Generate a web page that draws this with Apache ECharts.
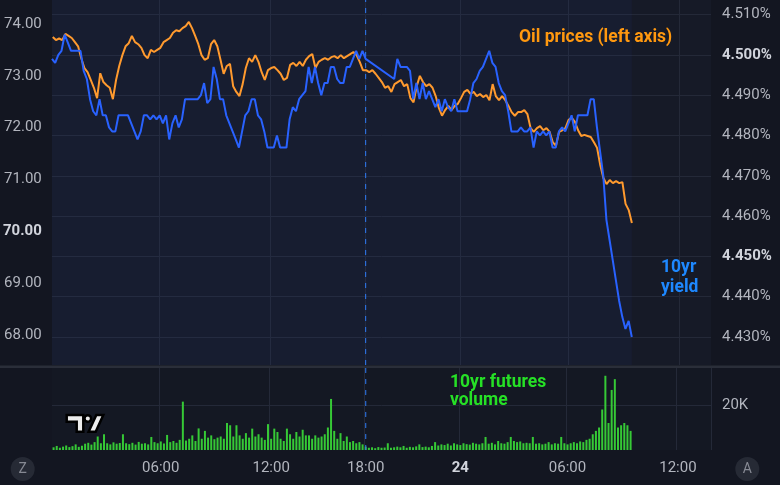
<!DOCTYPE html>
<html><head><meta charset="utf-8">
<script src="https://cdn.jsdelivr.net/npm/echarts@6/dist/echarts.min.js"></script>
<style>html,body{margin:0;padding:0;background:#131621;}#c{width:780px;height:485px;}</style>
</head><body><div id="c"></div>
<script>
// ---- data (one slot ≈ one plotted bar position, 23rd ~00:30 → 24th ~12:40) ----
const slotCount = 209;
const tickIndex = [34, 69, 99, 129, 163, 198];
const tickText  = ['06:00', '12:00', '18:00', '24', '06:00', '12:00'];
const sessionBreakIndex = 99;
const lastDataIndex = 183;

const oilPrices = [
73.75,73.69,73.72,73.69,73.81,73.77,73.73,73.65,73.57,73.34,
73.15,73.07,72.92,72.77,72.57,73.05,72.88,72.82,72.77,72.55,
72.92,73.19,73.40,73.57,73.63,73.77,73.65,73.61,73.54,73.40,
73.34,73.50,73.46,73.50,73.54,73.65,73.69,73.73,73.83,73.88,
73.86,73.92,73.96,74.04,73.92,73.77,73.61,73.40,73.31,73.34,
73.61,73.69,73.57,73.31,73.04,73.19,73.23,72.80,72.69,72.61,
72.84,73.15,73.34,73.27,73.40,73.27,73.07,72.92,73.11,73.15,
73.17,73.11,73.04,72.92,72.96,73.21,73.25,73.19,73.27,73.19,
73.31,73.38,73.42,73.15,73.27,73.31,73.34,73.31,73.36,73.38,
73.34,73.40,73.34,73.38,73.42,73.46,73.40,73.27,73.11,73.11,
73.07,73.11,73.04,72.96,72.88,72.77,72.80,72.69,72.84,72.88,
72.92,72.80,72.84,72.57,72.49,72.80,73.00,72.88,72.80,72.84,
72.77,72.61,72.38,72.23,72.34,72.42,72.34,72.42,72.46,72.57,
72.69,72.73,72.65,72.69,72.61,72.65,72.59,72.63,72.53,72.84,
72.61,72.53,72.61,72.53,72.42,72.30,72.23,72.30,72.30,72.34,
72.26,71.99,71.92,71.99,72.03,71.95,71.99,71.92,71.72,71.65,
71.92,71.95,71.99,72.15,72.19,72.11,71.95,71.84,71.86,71.84,
71.82,71.72,71.61,71.28,71.03,70.91,70.99,70.93,70.97,70.93,
70.95,70.53,70.41,70.16
];

const yield10y = [
4.499,4.498,4.500,4.501,4.505,4.503,4.501,4.501,4.501,4.501,
4.496,4.494,4.489,4.486,4.485,4.489,4.485,4.485,4.482,4.481,
4.481,4.485,4.485,4.485,4.485,4.483,4.481,4.479,4.481,4.485,
4.485,4.484,4.485,4.484,4.485,4.483,4.485,4.479,4.483,4.485,
4.482,4.484,4.489,4.489,4.489,4.489,4.489,4.490,4.493,4.488,
4.489,4.497,4.494,4.489,4.489,4.485,4.483,4.481,4.479,4.477,
4.481,4.485,4.486,4.489,4.489,4.485,4.484,4.481,4.477,4.477,
4.477,4.480,4.477,4.477,4.477,4.484,4.487,4.486,4.489,4.490,
4.491,4.497,4.493,4.497,4.493,4.490,4.493,4.493,4.497,4.497,
4.494,4.493,4.493,4.497,4.497,4.499,4.501,4.499,4.501,4.499,
null,null,null,null,null,null,null,null,4.494,4.499,
4.497,4.497,4.497,4.496,4.489,4.493,4.489,4.493,4.489,4.491,
4.489,4.487,4.489,4.486,4.489,4.487,4.486,4.489,4.486,4.486,
4.486,4.486,4.489,4.493,4.494,4.496,4.497,4.499,4.501,4.498,
4.497,4.493,4.491,4.490,4.486,4.481,4.481,4.481,4.482,4.481,
4.481,4.482,4.477,4.481,4.480,4.481,4.480,4.481,4.477,4.477,
4.481,4.482,4.481,4.483,4.485,4.481,4.485,4.485,4.485,4.485,
4.489,4.489,4.482,4.476,4.470,4.459,4.454,4.449,4.444,4.439,
4.435,4.432,4.434,4.430
];

// 10yr futures volume, thousands of contracts
const futuresVolumeK = [
1.2,1.8,1.0,1.5,2.0,1.3,1.7,2.5,1.4,1.9,
2.8,3.2,2.4,3.5,6.0,3.0,7.0,3.0,2.5,3.4,
2.8,3.1,7.0,3.0,2.6,3.2,2.4,3.6,2.8,3.0,
2.5,5.8,3.5,3.0,3.8,2.9,6.7,3.5,4.0,3.2,
4.5,21.5,4.2,5.0,6.5,4.0,9.6,5.0,8.5,5.5,
6.5,4.8,5.5,6.0,5.0,12.0,11.0,6.0,11.0,6.5,
5.0,7.5,5.5,9.5,6.0,7.0,5.5,4.5,11.5,5.0,
9.5,8.0,5.0,4.0,9.5,7.0,5.0,8.0,6.0,9.0,
6.5,6.5,5.0,6.5,5.5,6.0,7.0,10.0,22.7,8.5,
5.0,7.5,4.0,6.0,3.5,4.0,3.0,3.5,2.5,1.5,
1.0,1.2,0.8,1.3,1.0,1.1,3.0,1.0,1.2,1.5,
1.2,1.8,1.0,1.4,1.2,1.6,2.5,1.3,1.5,1.2,
1.8,3.5,2.0,2.5,2.2,2.8,2.0,3.0,2.5,2.2,
3.0,2.6,2.4,3.2,2.8,2.5,3.0,5.8,2.8,3.2,
2.5,4.0,3.0,2.8,3.5,5.8,4.0,3.5,3.8,3.0,
3.2,3.0,5.8,2.8,3.0,2.5,2.8,3.5,2.5,3.0,
2.8,5.8,3.0,2.5,3.0,3.5,3.0,3.8,3.5,4.5,
5.0,7.0,8.5,10.0,18.0,33.0,12.0,26.7,31.5,10.0,
11.0,12.0,11.0,8.5
];

const oilTicks = [68, 74, 1];          // min, max, step (left axis)
const yieldTicks = [4.43, 4.51, 0.01]; // min, max, step (right axis)
const volumeTicks = [0, 36.9, 20];     // min, max, step (volume axis, K)

// ---- chart ----
const slots = Array.from({length: slotCount}, (_, i) => 'b' + i);
const isTick = (i) => tickIndex.indexOf(i) >= 0;

const FONT = 'Roboto, "Noto Sans", sans-serif';
const LABEL = '#b2b5be';
const BOLD = '#d1d4dc';
const GRID = '#242938';
const BREAK = '#2f7cf6';
const L = 52, W = 659;

const chart = echarts.init(document.getElementById('c'), null, {renderer: 'canvas'});

const hiddenX = (g) => ({type: 'category', gridIndex: g, data: slots, boundaryGap: false, show: false});
const breakSeries = (xi, yi, top) => ({
  type: 'line', xAxisIndex: xi, yAxisIndex: yi, silent: true, showSymbol: false, z: 3,
  data: [[slots[sessionBreakIndex], 0], [slots[sessionBreakIndex], top]],
  lineStyle: {color: BREAK, type: [5, 6], width: 1}, itemStyle: {color: BREAK}, clip: false
});

chart.setOption({
  animation: false,
  backgroundColor: '#131621',
  grid: [
    {left: L, width: W, top: 24, height: 311},                 // oil
    {left: L, width: W, top: 14.5, height: 322.5},             // yield
    {left: L, width: W, top: 0, height: 365, show: true, backgroundColor: '#161a27', borderWidth: 0}, // main pane
    {left: L, width: W, top: 367, height: 83, show: true, backgroundColor: '#141823', borderWidth: 0}  // volume pane
  ],
  xAxis: [
    hiddenX(0), hiddenX(1),
    {type: 'category', gridIndex: 2, data: slots, boundaryGap: false,
     axisLine: {show: false}, axisTick: {show: false}, axisLabel: {show: false},
     splitLine: {show: true, interval: (i) => isTick(i), lineStyle: {color: GRID, width: 1}}},
    {type: 'category', gridIndex: 3, data: slots, boundaryGap: true,
     axisLine: {show: false}, axisTick: {show: false},
     axisLabel: {show: true, interval: (i) => isTick(i), margin: 11,
       color: LABEL, fontSize: 15, fontFamily: FONT,
       formatter: (v, i) => { const t = tickText[tickIndex.indexOf(i)] || ''; return t === '24' ? '{b|' + t + '}' : t; },
       rich: {b: {fontWeight: 'bold', color: BOLD, fontSize: 15, fontFamily: FONT}}},
     splitLine: {show: true, interval: (i) => isTick(i), lineStyle: {color: GRID, width: 1}}}
  ],
  yAxis: [
    {type: 'value', gridIndex: 0, position: 'left', min: oilTicks[0], max: oilTicks[1], interval: oilTicks[2],
     axisLine: {show: false}, axisTick: {show: false}, splitLine: {show: false},
     axisLabel: {margin: 11, color: LABEL, fontSize: 15, fontFamily: FONT, showMinLabel: true, showMaxLabel: true,
       formatter: (v) => { const s = v.toFixed(2); return Math.abs(v - 70) < 1e-6 ? '{b|' + s + '}' : s; },
       rich: {b: {fontWeight: 'bold', color: BOLD, fontSize: 15, fontFamily: FONT}}}},
    {type: 'value', gridIndex: 1, position: 'right', min: yieldTicks[0], max: yieldTicks[1], interval: yieldTicks[2],
     axisLine: {show: false}, axisTick: {show: false},
     splitLine: {show: true, lineStyle: {color: GRID, width: 1}},
     axisLabel: {margin: 11, color: LABEL, fontSize: 15, fontFamily: FONT, showMinLabel: true, showMaxLabel: true,
       formatter: (v) => { const s = v.toFixed(3) + '%'; return (Math.abs(v - 4.5) < 1e-6 || Math.abs(v - 4.45) < 1e-6) ? '{b|' + s + '}' : s; },
       rich: {b: {fontWeight: 'bold', color: BOLD, fontSize: 15, fontFamily: FONT}}}},
    {type: 'value', gridIndex: 2, min: 0, max: 1, show: false},
    {type: 'value', gridIndex: 3, position: 'right', min: volumeTicks[0], max: volumeTicks[1], interval: volumeTicks[2],
     axisLine: {show: false}, axisTick: {show: false},
     splitLine: {show: true, showMinLine: false, showMaxLine: false, lineStyle: {color: GRID, width: 1}},
     axisLabel: {margin: 11, color: LABEL, fontSize: 15, fontFamily: FONT, showMinLabel: false, showMaxLabel: false,
       formatter: (v) => (v === 20 ? '20K' : '')}}
  ],
  series: [
    {type: 'line', xAxisIndex: 2, yAxisIndex: 2, data: [], silent: true,
     markArea: {silent: true, itemStyle: {color: 'rgba(45,85,210,0.06)'},
       data: [[{xAxis: slots[0]}, {xAxis: slots[lastDataIndex]}]]}},
    breakSeries(2, 2, 1),
    {name: 'Oil prices', type: 'line', xAxisIndex: 0, yAxisIndex: 0, data: oilPrices, z: 4,
     showSymbol: false, lineStyle: {color: '#ff9a2e', width: 2}, itemStyle: {color: '#ff9a2e'}, clip: false},
    {name: '10yr yield', type: 'line', xAxisIndex: 1, yAxisIndex: 1, data: yield10y, connectNulls: true, z: 5,
     showSymbol: false, lineStyle: {color: '#2962ff', width: 2}, itemStyle: {color: '#2962ff'}, clip: false},
    {name: '10yr futures volume', type: 'bar', xAxisIndex: 3, yAxisIndex: 3, data: futuresVolumeK,
     barWidth: 2, itemStyle: {color: '#36c936'}},
    breakSeries(3, 3, volumeTicks[1])
  ],
  graphic: [
    {type: 'rect', z: 20, shape: {x: 0, y: 365.5, width: 780, height: 2.5}, style: {fill: '#2a2e39'}, silent: true},
    {type: 'text', z: 20, x: 519, y: 38, style: {text: 'Oil prices (left axis)', fill: '#ff980f',
      font: 'bold 17.5px ' + FONT, textVerticalAlign: 'middle'}},
    {type: 'text', z: 20, x: 661, y: 258, style: {text: '10yr\nyield', fill: '#1e88ff',
      font: 'bold 17.5px ' + FONT, lineHeight: 19.5}},
    {type: 'text', z: 20, x: 450, y: 373, style: {text: '10yr futures\nvolume', fill: '#26e026',
      font: 'bold 17.5px ' + FONT, lineHeight: 18.5}},
    {type: 'group', z: 20, children: [
      {type: 'polygon', shape: {points: [[66.7,415],[83.3,415],[83.3,431.7],[76.7,431.7],[76.7,421.7],[66.7,421.7]]},
       style: {fill: '#ececec', stroke: '#000', lineWidth: 2.5}},
      {type: 'circle', shape: {cx: 87.8, cy: 418.5, r: 3.3}, style: {fill: '#ececec', stroke: '#000', lineWidth: 2.5}},
      {type: 'polygon', shape: {points: [[88.6,431.7],[95.7,431.7],[103.3,415],[96.3,415]]},
       style: {fill: '#ececec', stroke: '#000', lineWidth: 2.5}}
    ]},
    {type: 'circle', z: 20, shape: {cx: 22.7, cy: 469, r: 12}, style: {fill: '#262a35'}},
    {type: 'text', z: 21, x: 22.7, y: 469, style: {text: 'Z', fill: '#868993', font: '14px ' + FONT, align: 'center', verticalAlign: 'middle'}},
    {type: 'circle', z: 20, shape: {cx: 747.3, cy: 469, r: 12}, style: {fill: '#262a35'}},
    {type: 'text', z: 21, x: 747.3, y: 469, style: {text: 'A', fill: '#868993', font: '14px ' + FONT, align: 'center', verticalAlign: 'middle'}}
  ]
});
</script>
</body></html>
